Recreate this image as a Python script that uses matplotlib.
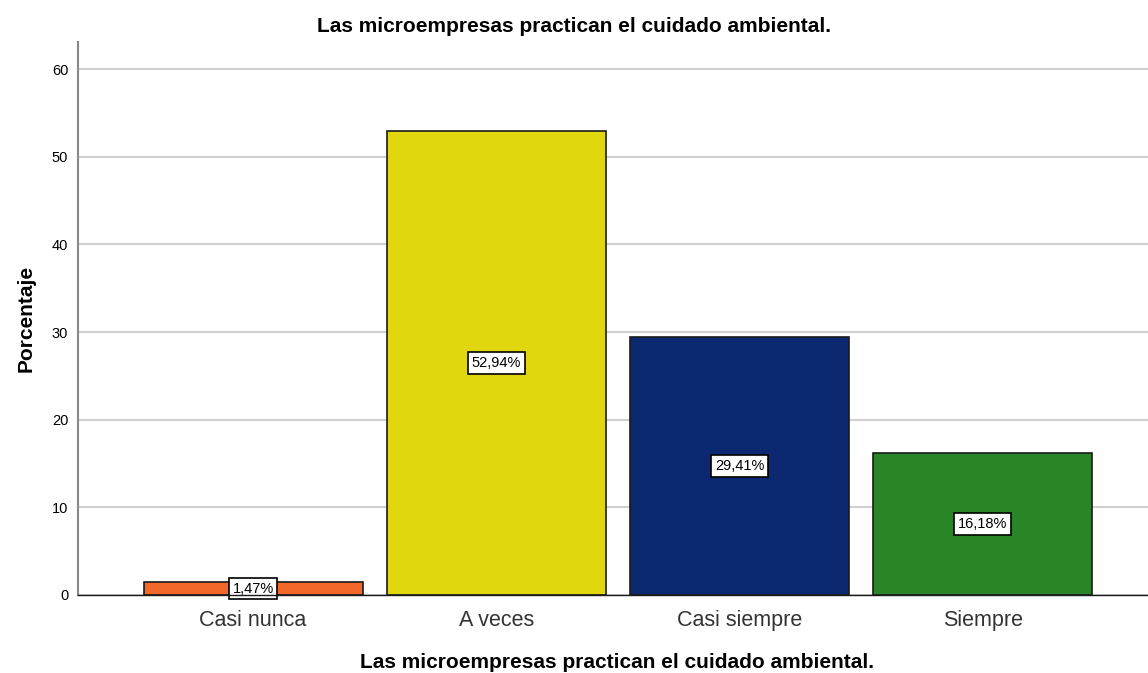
import matplotlib.pyplot as plt
import numpy as np

plt.rcParams['font.family'] = ['Liberation Sans', 'DejaVu Sans']

categorias = ['Casi nunca', 'A veces', 'Casi siempre', 'Siempre']
porcentajes = [1.47, 52.94, 29.41, 16.18]
etiquetas = ['1,47%', '52,94%', '29,41%', '16,18%']
colores = ['#F2672A', '#E1D70F', '#0B2870', '#2A8529']
titulo = 'Las microempresas practican el cuidado ambiental.'

fig = plt.figure(figsize=(11.48, 6.73), dpi=100)
ax = fig.add_axes([78 / 1148, 78 / 673, 1070 / 1148, 553 / 673])

x = np.arange(len(categorias))
ax.bar(x, porcentajes, width=0.9, color=colores, edgecolor='#1a1a1a', linewidth=1.2, zorder=3)

# cajas con el porcentaje en el centro de cada barra
for xi, v, t in zip(x, porcentajes, etiquetas):
    ax.text(xi, v / 2, t, ha='center', va='center', fontsize=10.5, zorder=4,
            bbox=dict(boxstyle='square,pad=0.25', fc='white', ec='black', lw=1.2))

ax.set_xlim(-0.72, 3.68)
ax.set_ylim(0, 63.1)
ax.set_yticks([0, 10, 20, 30, 40, 50, 60])
ax.set_xticks(x)
ax.set_xticklabels(categorias, fontsize=15.5, color='#333333')
ax.tick_params(axis='y', labelsize=10.5, length=0, pad=7)
ax.tick_params(axis='x', length=0, pad=11)
ax.grid(axis='y', color='#d0d0d0', linewidth=1.5, zorder=0)

for s in ['top', 'right']:
    ax.spines[s].set_visible(False)
ax.spines['left'].set_color('#888888')
ax.spines['left'].set_linewidth(1.5)
ax.spines['bottom'].set_color('#1a1a1a')
ax.spines['bottom'].set_linewidth(1)
ax.spines['bottom'].set_zorder(5)

ax.set_ylabel('Porcentaje', fontsize=15, fontweight='bold', labelpad=12)
# titulo y etiqueta del eje x colocados a mano, como en SPSS
fig.text(0.5, 1 - 27 / 673, titulo, ha='center', va='center', fontsize=15, fontweight='bold')
fig.text(617 / 1148, 1 - 662 / 673, titulo, ha='center', va='center', fontsize=15, fontweight='bold')

fig.savefig('out.png', dpi=100)
